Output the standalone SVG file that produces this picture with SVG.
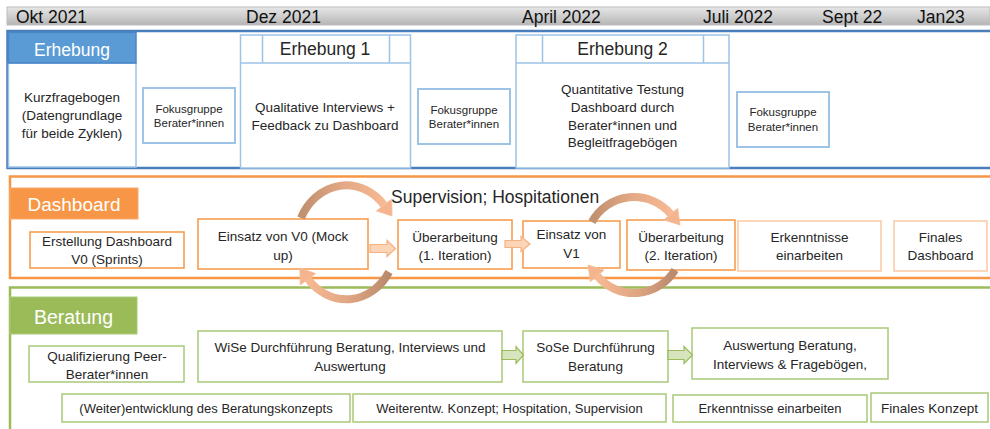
<svg xmlns="http://www.w3.org/2000/svg" width="990" height="429" viewBox="0 0 990 429">
<defs>
<linearGradient id="bar" x1="0" y1="0" x2="0" y2="1">
<stop offset="0" stop-color="#e6e6e6"/><stop offset="0.5" stop-color="#cfcfcf"/><stop offset="1" stop-color="#b5b5b5"/>
</linearGradient>
<linearGradient id="gTop" x1="0" y1="0" x2="1" y2="0">
<stop offset="0" stop-color="#c0906f"/><stop offset="0.5" stop-color="#e3a885"/><stop offset="1" stop-color="#f6b993"/>
</linearGradient>
<linearGradient id="gBot" x1="1" y1="0" x2="0" y2="0">
<stop offset="0" stop-color="#b98a6c"/><stop offset="0.5" stop-color="#e0a683"/><stop offset="1" stop-color="#f6b993"/>
</linearGradient>
<style>
text{font-family:"Liberation Sans",Arial,sans-serif;fill:#262626}
.t{font-size:13.5px;text-anchor:middle}
.s{font-size:11.5px;text-anchor:middle}
.h{font-size:17.5px}
.hw{font-size:19px;fill:#fff;text-anchor:middle}
.bar{font-size:17.5px;fill:#111}
.blue{fill:#fff;stroke:#9dc3e6;stroke-width:1.5}
.fok{fill:#fff;stroke:#9dc3e6;stroke-width:2}
.or{fill:#fff;stroke:#f79646;stroke-width:1.5}
.orl{fill:#fff;stroke:#fbc9a3;stroke-width:1.5}
.gr{fill:#fff;stroke:#a9c978;stroke-width:1.5}
.oarrow{fill:#fbd5b5;stroke:#f4b183;stroke-width:1.2}
.garrow{fill:#d7e4bd;stroke:#9bbb59;stroke-width:1.2}
</style>
</defs>
<rect width="990" height="429" fill="#fff"/>

<g id="timeline">
<rect x="7" y="7" width="983" height="18" fill="url(#bar)" stroke="#bdbdbd" stroke-width="1"/>
<text class="bar" x="16" y="22.5">Okt 2021</text>
<text class="bar" x="246" y="22.5">Dez 2021</text>
<text class="bar" x="522" y="22.5">April 2022</text>
<text class="bar" x="703" y="22.5">Juli 2022</text>
<text class="bar" x="822" y="22.5">Sept 22</text>
<text class="bar" x="917" y="22.5">Jan23</text>
</g>

<g id="erhebung">
<rect x="7.5" y="31" width="990" height="137" fill="#fff" stroke="#4a7ebb" stroke-width="2.5"/>
<rect x="8.5" y="63" width="127.5" height="104" class="blue"/>
<rect x="8.5" y="32.5" width="127.5" height="30.5" fill="#5b9bd5" stroke="#4a86c5" stroke-width="1.5"/>
<text x="72" y="56" class="hw" style="font-size:17.5px">Erhebung</text>
<text class="t" x="72" y="102">Kurzfragebogen</text>
<text class="t" x="72" y="120">(Datengrundlage</text>
<text class="t" x="72" y="138">für beide Zyklen)</text>
</g>

<g id="fokus1">
<rect x="143" y="88" width="92" height="55" class="fok"/>
<text class="s" x="189" y="112.5">Fokusgruppe</text>
<text class="s" x="189" y="127">Berater*innen</text>
</g>

<g id="erhebung1">
<rect x="240.5" y="35" width="170" height="133" class="blue"/>
<line x1="240.5" y1="63" x2="410.5" y2="63" stroke="#9dc3e6" stroke-width="1.5"/>
<line x1="262.5" y1="35" x2="262.5" y2="63" stroke="#9dc3e6" stroke-width="1.5"/>
<line x1="389.5" y1="35" x2="389.5" y2="63" stroke="#9dc3e6" stroke-width="1.5"/>
<text class="h" x="325" y="55" text-anchor="middle">Erhebung 1</text>
<text class="t" x="325" y="112">Qualitative Interviews +</text>
<text class="t" x="325" y="130">Feedback zu Dashboard</text>
</g>

<g id="fokus2">
<rect x="418" y="89" width="92" height="55" class="fok"/>
<text class="s" x="464" y="113.5">Fokusgruppe</text>
<text class="s" x="464" y="128">Berater*innen</text>
</g>

<g id="erhebung2">
<rect x="516" y="35" width="213" height="133" class="blue"/>
<line x1="516" y1="63" x2="729" y2="63" stroke="#9dc3e6" stroke-width="1.5"/>
<line x1="542.5" y1="35" x2="542.5" y2="63" stroke="#9dc3e6" stroke-width="1.5"/>
<line x1="703.5" y1="35" x2="703.5" y2="63" stroke="#9dc3e6" stroke-width="1.5"/>
<text class="h" x="622.5" y="55" text-anchor="middle">Erhebung 2</text>
<text class="t" x="622.5" y="93.5">Quantitative Testung</text>
<text class="t" x="622.5" y="112">Dashboard durch</text>
<text class="t" x="622.5" y="130">Berater*innen und</text>
<text class="t" x="622.5" y="147">Begleitfragebögen</text>
</g>

<g id="fokus3">
<rect x="737" y="92" width="92" height="55" class="fok"/>
<text class="s" x="783" y="115.5">Fokusgruppe</text>
<text class="s" x="783" y="130.5">Berater*innen</text>
</g>

<g id="dashboard">
<rect x="10" y="176.5" width="990" height="101.5" fill="#fff" stroke="#f79646" stroke-width="2.5"/>
<rect x="10" y="188" width="128" height="31" fill="#f79646" stroke="#f9a86f" stroke-width="1"/>
<text class="hw" x="74" y="210.5">Dashboard</text>
<text class="h" x="391" y="203">Supervision; Hospitationen</text>
</g>

<g id="d-erstellung">
<rect x="30" y="232" width="154" height="36" class="or"/>
<text class="t" x="107" y="245.5">Erstellung Dashboard</text>
<text class="t" x="107" y="264">V0 (Sprints)</text>
</g>
<g id="d-einsatz0">
<rect x="198" y="219" width="170" height="50" class="or"/>
<text class="t" x="283" y="241">Einsatz von V0 (Mock</text>
<text class="t" x="283" y="260">up)</text>
</g>
<g id="d-ueber1">
<rect x="398" y="220" width="114" height="49" class="or"/>
<text class="t" x="455" y="241.5">Überarbeitung</text>
<text class="t" x="455" y="260">(1. Iteration)</text>
</g>
<g id="d-einsatz1">
<rect x="523" y="221" width="97" height="47" class="or"/>
<text class="t" x="571.5" y="238.5">Einsatz von</text>
<text class="t" x="571.5" y="257.5">V1</text>
</g>
<g id="d-ueber2">
<rect x="627" y="220" width="108" height="50" class="or"/>
<text class="t" x="681" y="241.5">Überarbeitung</text>
<text class="t" x="681" y="260">(2. Iteration)</text>
</g>
<g id="d-erkenntnisse">
<rect x="738" y="221" width="143" height="50" class="orl"/>
<text class="t" x="809.5" y="241.5">Erkenntnisse</text>
<text class="t" x="809.5" y="260">einarbeiten</text>
</g>
<g id="d-final">
<rect x="894" y="221" width="93" height="50" class="orl"/>
<text class="t" x="940.5" y="241.5">Finales</text>
<text class="t" x="940.5" y="260">Dashboard</text>
</g>

<g id="beratung">
<rect x="10" y="287.5" width="990" height="200" fill="none" stroke="#9bbb59" stroke-width="2.5"/>
<rect x="10" y="297" width="127" height="37" fill="#9bbb59" stroke="#a9c978" stroke-width="1"/>
<text class="hw" x="73.5" y="323.5" style="font-size:19.5px">Beratung</text>
</g>

<g id="b-quali">
<rect x="29" y="346" width="155" height="36" class="gr"/>
<text class="t" x="107" y="360.5">Qualifizierung Peer-</text>
<text class="t" x="107" y="379">Berater*innen</text>
</g>
<g id="b-wise">
<rect x="198" y="331" width="304" height="51" class="gr"/>
<text class="t" x="350" y="351.5">WiSe Durchführung Beratung, Interviews und</text>
<text class="t" x="350" y="370.5">Auswertung</text>
</g>
<g id="b-sose">
<rect x="523" y="331" width="145" height="51" class="gr"/>
<text class="t" x="595.5" y="351.5">SoSe Durchführung</text>
<text class="t" x="595.5" y="370.5">Beratung</text>
</g>
<g id="b-auswertung">
<rect x="692" y="328" width="196" height="51" class="gr"/>
<text class="t" x="790" y="349.5">Auswertung Beratung,</text>
<text class="t" x="790" y="368.5">Interviews &amp; Fragebögen,</text>
</g>
<g id="b-weiter">
<rect x="62" y="394" width="288" height="28" class="gr"/>
<text class="t" x="206" y="412.5" style="font-size:13px">(Weiter)entwicklung des Beratungskonzepts</text>
</g>
<g id="b-weiterentw">
<rect x="353" y="394" width="313" height="28" class="gr"/>
<text class="t" x="509.5" y="412.5" style="font-size:13px">Weiterentw. Konzept; Hospitation, Supervision</text>
</g>
<g id="b-erkenntnisse">
<rect x="673" y="395" width="194" height="27" class="gr"/>
<text class="t" x="770" y="412.5" style="font-size:13px">Erkenntnisse einarbeiten</text>
</g>
<g id="b-final">
<rect x="871" y="393" width="117" height="29" class="gr"/>
<text class="t" x="929.5" y="413">Finales Konzept</text>
</g>

<g id="connectors">
<!-- block arrows dashboard -->
<polygon class="oarrow" points="370,244.5 387,244.5 387,240.5 395.5,248.5 387,256.5 387,252.5 370,252.5"/>
<polygon class="oarrow" points="505,240.5 521,240.5 521,236.5 530,244 521,251.5 521,247.5 505,247.5"/>
<!-- block arrows beratung -->
<polygon class="garrow" points="502,350.5 516,350.5 516,346.5 523.5,355 516,363.5 516,359.5 502,359.5"/>
<polygon class="garrow" points="668,350.5 684,350.5 684,346.5 692.5,355 684,363.5 684,359.5 668,359.5"/>
<!-- circular arrow 1 -->
<path d="M 301 218 A 50 57 0 0 1 384 205" fill="none" stroke="url(#gTop)" stroke-width="8"/>
<polygon points="376.3,210.9 391.7,199.1 392,216" fill="#f3b48e" stroke="#f5be9c" stroke-width="0.8"/>
<path d="M 389 272 A 50 57 0 0 1 308 279" fill="none" stroke="url(#gBot)" stroke-width="8"/>
<polygon points="315.7,273.6 300.3,284.9 299.8,268" fill="#f3b48e" stroke="#f5be9c" stroke-width="0.8"/>
<!-- circular arrow 2 -->
<path d="M 592 222 A 48 48 0 0 1 670.8 214.1" fill="none" stroke="url(#gTop)" stroke-width="8"/>
<polygon points="663.9,219.9 677.7,208.3 680,225" fill="#f3b48e" stroke="#f5be9c" stroke-width="0.8"/>
<path d="M 675 270 A 48 48 0 0 1 597.2 275.9" fill="none" stroke="url(#gBot)" stroke-width="8"/>
<polygon points="604.1,270.1 590.3,281.7 588,265" fill="#f3b48e" stroke="#f5be9c" stroke-width="0.8"/>
</g>
</svg>
